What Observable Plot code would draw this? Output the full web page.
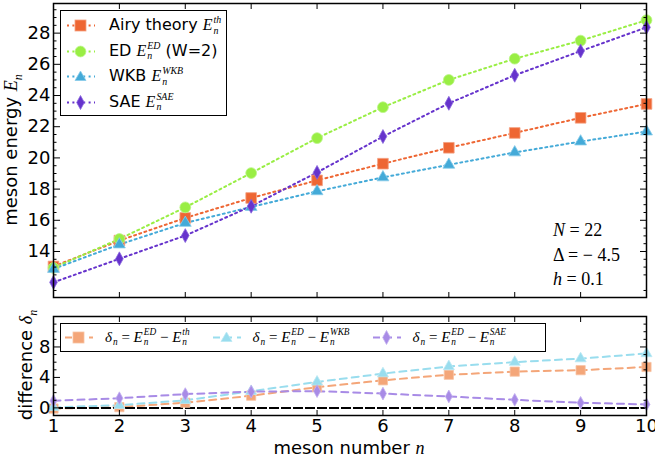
<!DOCTYPE html>
<html>
<head>
<meta charset="utf-8">
<script src="https://cdn.jsdelivr.net/npm/d3@7"></script>
<script src="https://cdn.jsdelivr.net/npm/@observablehq/plot@0.6"></script>
<style>
  body { margin: 0; background: #fff; }
  #fig { position: relative; width: 655px; height: 462px; font-family: "DejaVu Sans", sans-serif; color: #000; overflow: hidden; }
  #fig > svg, #fig > div { position: absolute; }
  #fig > svg { overflow: visible; }
  .m { font-family: "Liberation Serif", "DejaVu Serif", serif; font-style: italic; }
  .r { font-family: "Liberation Serif", "DejaVu Serif", serif; font-style: normal; }
  .ss { display: inline-flex; flex-direction: column; vertical-align: middle; font-size: 0.62em; line-height: 1.05; margin-left: 1px; font-family: "Liberation Serif", serif; font-style: italic; }
  .legend { background: #fff; border: 1.5px solid #000; }
  .row { display: flex; align-items: center; white-space: nowrap; }
</style>
</head>
<body>
<div id="fig"></div>
<script>
// ---- data ----
const n = [1, 2, 3, 4, 5, 6, 7, 8, 9, 10];
const airy = [13.04, 14.70, 16.15, 17.43, 18.56, 19.63, 20.65, 21.60, 22.57, 23.46];
const ed   = [12.95, 14.80, 16.83, 19.03, 21.27, 23.25, 25.00, 26.36, 27.52, 28.83];
const wkb  = [12.88, 14.45, 15.83, 16.85, 17.86, 18.75, 19.56, 20.35, 21.05, 21.69];
const sae  = [12.02, 13.53, 15.02, 16.90, 19.07, 21.37, 23.50, 25.30, 26.85, 28.37];
const dTh  = ed.map((v, i) => v - airy[i]);
const dWkb = ed.map((v, i) => v - wkb[i]);
const dSae = ed.map((v, i) => v - sae[i]);
const yTicksTop = [14, 16, 18, 20, 22, 24, 26, 28];
const yTicksBot = [0, 4, 8];
const xTicks = n;

const colTop = {airy: "#ee6633", ed: "#99ee44", wkb: "#44aad8", sae: "#6633cc"};
const colBot = {th: "#f4a679", wkb: "#99ddee", sae: "#a88be6"};

// thin diamond symbol
const thinDiamond = {
  draw(ctx, size) {
    const h = Math.sqrt(size) * 0.56, w = h * 0.55;
    ctx.moveTo(0, -h); ctx.lineTo(w, 0); ctx.lineTo(0, h); ctx.lineTo(-w, 0); ctx.closePath();
  }
};

const fig = document.getElementById("fig");
const W = 655;
const xDomain = [1, 10];

function series(ys, key) { return n.map((x, i) => ({x, y: ys[i], key})); }

const noLab = {tickFormat: () => "", strokeWidth: 1, label: null};
function frameAxes(yTicks, yMinor) {
  return [
    Plot.axisX(xTicks, {anchor: "bottom", tickSize: -5, ...noLab}),
    Plot.axisX(xTicks, {anchor: "top", tickSize: -5, ...noLab}),
    Plot.axisY(yTicks, {anchor: "left", tickSize: -7, ...noLab}),
    Plot.axisY(yTicks, {anchor: "right", tickSize: -7, ...noLab}),
    Plot.axisY(yMinor, {anchor: "left", tickSize: -3.5, ...noLab}),
    Plot.axisY(yMinor, {anchor: "right", tickSize: -3.5, ...noLab}),
  ];
}

// ---- top panel ----
const topDomain = [11.05, 29.9];
const minorTop = d3.range(11.5, 29.9, 0.5).filter(v => v % 2 !== 0);
const dot = "2,3.4";
const topPlot = Plot.plot({
  width: W, height: 300,
  marginLeft: 53, marginRight: 9, marginTop: 3, marginBottom: 3,
  x: {domain: xDomain, axis: null},
  y: {domain: topDomain, axis: null},
  style: {fontFamily: "DejaVu Sans", fontSize: "18px", background: "transparent", overflow: "visible"},
  marks: [
    Plot.line(series(airy, "a"), {x: "x", y: "y", stroke: colTop.airy, strokeWidth: 2, strokeDasharray: dot}),
    Plot.line(series(ed, "e"), {x: "x", y: "y", stroke: colTop.ed, strokeWidth: 2, strokeDasharray: dot}),
    Plot.line(series(wkb, "w"), {x: "x", y: "y", stroke: colTop.wkb, strokeWidth: 2, strokeDasharray: dot}),
    Plot.line(series(sae, "s"), {x: "x", y: "y", stroke: colTop.sae, strokeWidth: 2, strokeDasharray: dot}),
    Plot.dot(series(airy, "a"), {x: "x", y: "y", symbol: "square", r: 6.0, fill: colTop.airy, stroke: "#f4a080", strokeWidth: 0.8}),
    Plot.dot(series(ed, "e"), {x: "x", y: "y", symbol: "circle", r: 5.4, fill: colTop.ed, stroke: "#bbf588", strokeWidth: 0.8}),
    Plot.dot(series(wkb, "w"), {x: "x", y: "y", symbol: "triangle", r: 4.4, fill: colTop.wkb, stroke: "#88ccea", strokeWidth: 0.8}),
    Plot.dot(series(sae, "s"), {x: "x", y: "y", symbol: thinDiamond, r: 7, fill: colTop.sae, stroke: "#8866dd", strokeWidth: 0.8}),
    ...frameAxes(yTicksTop, minorTop),
    Plot.frame({stroke: "#000", strokeWidth: 1.5})
  ]
});
topPlot.style.left = "0px"; topPlot.style.top = "0px";
fig.appendChild(topPlot);

// ---- bottom panel ----
const botDomain = [-1, 12];
const minorBot = d3.range(-1, 12.01, 1).filter(v => v % 4 !== 0);
const dash = "7,5";
const botPlot = Plot.plot({
  width: W, height: 162,
  marginLeft: 53, marginRight: 9, marginTop: 16, marginBottom: 47,
  x: {domain: xDomain, axis: null},
  y: {domain: botDomain, axis: null},
  style: {fontFamily: "DejaVu Sans", fontSize: "18px", background: "transparent", overflow: "visible"},
  marks: [
    Plot.line(series(dTh, "t"), {x: "x", y: "y", stroke: colBot.th, strokeWidth: 2, strokeDasharray: dash}),
    Plot.line(series(dWkb, "w"), {x: "x", y: "y", stroke: colBot.wkb, strokeWidth: 2, strokeDasharray: dash}),
    Plot.line(series(dSae, "s"), {x: "x", y: "y", stroke: colBot.sae, strokeWidth: 2, strokeDasharray: dash}),
    Plot.ruleY([0], {stroke: "#000", strokeWidth: 2, strokeDasharray: "10,2"}),
    Plot.dot(series(dTh, "t"), {x: "x", y: "y", symbol: "square", r: 5.2, fill: colBot.th, stroke: "#f8c4a4", strokeWidth: 0.8}),
    Plot.dot(series(dWkb, "w"), {x: "x", y: "y", symbol: "triangle", r: 4.1, fill: colBot.wkb, stroke: "#bbe8f4", strokeWidth: 0.8}),
    Plot.dot(series(dSae, "s"), {x: "x", y: "y", symbol: thinDiamond, r: 6.4, fill: colBot.sae, stroke: "#c2aef0", strokeWidth: 0.8}),
    ...frameAxes(yTicksBot, minorBot),
    Plot.axisX(xTicks, {anchor: "bottom", tickSize: 0, tickPadding: 4, fontSize: 18, label: null}),
    Plot.axisY(yTicksBot, {anchor: "left", tickSize: 0, tickPadding: 3, fontSize: 18, label: null}),
    Plot.frame({stroke: "#000", strokeWidth: 1.5})
  ]
});
botPlot.style.left = "0px"; botPlot.style.top = "300px";
fig.appendChild(botPlot);

// top y tick labels
const topLabels = Plot.plot({
  width: 60, height: 300,
  marginLeft: 53, marginRight: 7, marginTop: 3, marginBottom: 3,
  x: {domain: [0, 1], axis: null},
  y: {domain: topDomain, axis: null},
  style: {fontFamily: "DejaVu Sans", fontSize: "18px", background: "transparent", overflow: "visible"},
  marks: [Plot.axisY(yTicksTop, {anchor: "left", tickSize: 0, tickPadding: 3, fontSize: 18, label: null})]
});
topLabels.style.left = "0px"; topLabels.style.top = "0px";
fig.appendChild(topLabels);

// ---- html overlays ----
function sym(kind, color, edge, dashArr) {
  let shape = "";
  if (kind === "square") shape = `<rect x="9" y="4" width="11" height="11" fill="${color}" stroke="${edge}" stroke-width="0.8"/>`;
  if (kind === "circle") shape = `<circle cx="14.5" cy="9.5" r="5.4" fill="${color}" stroke="${edge}" stroke-width="0.8"/>`;
  if (kind === "triangle") shape = `<path d="M14.5,4 L20,13.5 L9,13.5 Z" fill="${color}" stroke="${edge}" stroke-width="0.8"/>`;
  if (kind === "diamond") shape = `<path d="M14.5,2.5 L18.3,9.5 L14.5,16.5 L10.7,9.5 Z" fill="${color}" stroke="${edge}" stroke-width="0.8"/>`;
  return `<svg width="30" height="19" style="display:block"><line x1="1" y1="9.5" x2="29" y2="9.5" stroke="${color}" stroke-width="2" stroke-dasharray="${dashArr}"/>${shape}</svg>`;
}
const E = (sup) => `<span class="m">E</span><span class="ss"><span>${sup}</span><span>n</span></span>`;

function addDiv(html, css) {
  const d = document.createElement("div");
  d.innerHTML = html;
  Object.assign(d.style, css);
  fig.appendChild(d);
  return d;
}

// top legend
const topItems = [
  ["square", colTop.airy, "#f4a080", `Airy theory ${E("th")}`],
  ["circle", colTop.ed, "#bbf588", `ED ${E("ED")} (W=2)`],
  ["triangle", colTop.wkb, "#88ccea", `WKB ${E("WKB")}`],
  ["diamond", colTop.sae, "#8866dd", `SAE ${E("SAE")}`],
];
addDiv(topItems.map(([k, c, e, t]) =>
  `<div class="row" style="height:25.5px"><div style="margin-left:5px">${sym(k, c, e, "2,3.4")}</div><div style="margin-left:13px;font-size:16px">${t}</div></div>`
).join(""), {left: "60px", top: "10px", width: "167px", height: "106px", padding: "2px 0 0 0", boxSizing: "border-box"}).className = "legend";

// bottom legend
const dEq = (sup) => `<span class="m">δ</span><span class="ss" style="justify-content:flex-end"><span>&nbsp;</span><span>n</span></span><span class="r"> = </span>${E("ED")}<span class="r"> − </span>${E(sup)}`;
const botItems = [
  ["square", colBot.th, "#f8c4a4", dEq("th")],
  ["triangle", colBot.wkb, "#bbe8f4", dEq("WKB")],
  ["diamond", colBot.sae, "#c2aef0", dEq("SAE")],
];
const bl = addDiv(`<div class="row" style="height:100%">` + botItems.map(([k, c, e, t], i) =>
  `<div style="margin-left:${i === 0 ? 3 : 22}px">${sym(k, c, e, "7,5")}</div><div style="margin-left:11px;font-size:15px">${t}</div>`
).join("") + `</div>`, {left: "60px", top: "323px", width: "486px", height: "29px", boxSizing: "border-box"});
bl.className = "legend";

// annotation
addDiv(`<div><span class="m">N</span><span class="r"> = 22</span></div><div><span class="r">Δ = − 4.5</span></div><div><span class="m">h</span><span class="r"> = 0.1</span></div>`,
  {left: "553px", top: "218px", fontSize: "18px", lineHeight: "23.5px"});

// axis labels
addDiv(`meson energy <span class="m">E</span><sub class="m" style="font-size:12px">n</sub>`,
  {left: "13px", top: "150px", transform: "translate(-50%,-50%) rotate(-90deg)", fontSize: "18px", whiteSpace: "nowrap"});
addDiv(`difference <span class="m">δ</span><sub class="m" style="font-size:12px">n</sub>`,
  {left: "28px", top: "365px", transform: "translate(-50%,-50%) rotate(-90deg)", fontSize: "18px", whiteSpace: "nowrap"});
addDiv(`meson number <span class="m">n</span>`,
  {left: "349px", top: "448px", transform: "translate(-50%,-50%)", fontSize: "18px", lineHeight: "20px", whiteSpace: "nowrap"});
</script>
</body>
</html>
